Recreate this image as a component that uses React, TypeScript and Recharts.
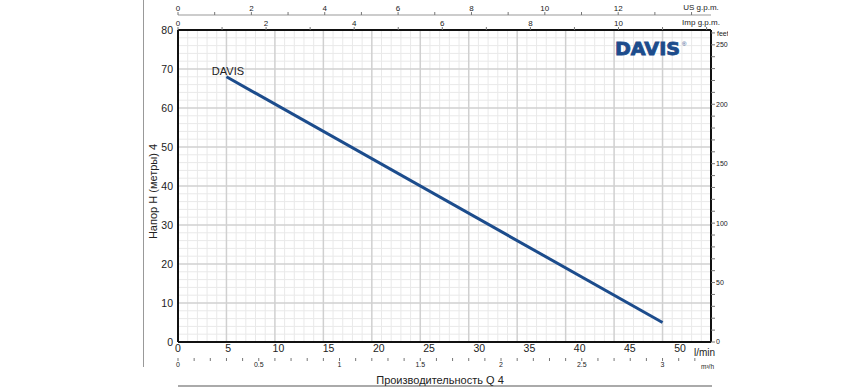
import { LineChart, Line, XAxis, YAxis, ReferenceLine, LabelList } from 'recharts'

// pump curve, flow in l/min, head in metres
const FLOW_LMIN = [5, 50]
const HEAD_M = [68, 5]

const LMIN_TICKS = [0, 5, 10, 15, 20, 25, 30, 35, 40, 45, 50]
const HEAD_TICKS = [0, 10, 20, 30, 40, 50, 60, 70, 80]
const M3H_LABELS = [0, 0.5, 1, 1.5, 2, 2.5, 3]
const US_LABELS = [0, 2, 4, 6, 8, 10, 12]
const IMP_LABELS = [0, 2, 4, 6, 8, 10]
const FEET_LABELS = [0, 50, 100, 150, 200, 250]

const steps = (n: number, step: number) =>
  Array.from({ length: n }, (_, i) => Math.round(i * step * 1000) / 1000)

const M3H_TICKS = steps(33, 0.1)
const US_TICKS = steps(15, 1)
const IMP_TICKS = steps(13, 1)
const FEET_TICKS = steps(27, 10)
const GRID_X = steps(56, 0.06)
const GRID_Y = steps(41, 2)

const data = FLOW_LMIN.map((q, i) => ({ q: Math.round(q * 0.06 * 1000) / 1000, h: HEAD_M[i] }))

const only = (list: number[]) => (v: number) => (list.includes(v) ? String(v) : '')

const FONT = '"Liberation Sans", Arial, sans-serif'
const INK = '#222'
const BLUE = '#1c4c8c'

export default function App() {
  const minorX = GRID_X.filter((_, i) => i > 0 && i < 55 && i % 5 !== 0)
  const majorX = GRID_X.filter((_, i) => i > 0 && i < 55 && i % 5 === 0)
  const minorY = GRID_Y.filter((_, i) => i > 0 && i < 40 && i % 5 !== 0)
  const majorY = GRID_Y.filter((_, i) => i > 0 && i < 40 && i % 5 === 0)

  return (
    <div
      style={{
        position: 'absolute',
        left: 0,
        top: 0,
        width: 728,
        height: 388,
        overflow: 'hidden',
        background: '#fff',
        fontFamily: FONT,
      }}
    >
      <LineChart width={868} height={388} data={data} margin={{ top: 0, right: 127, bottom: 0, left: 138 }}>
        {/* bottom axes */}
        <XAxis
          xAxisId="lmin"
          dataKey="q"
          type="number"
          orientation="bottom"
          domain={[0, 53.08]}
          allowDataOverflow
          ticks={LMIN_TICKS}
          interval={0}
          height={16}
          tickSize={0}
          tickMargin={3}
          tickLine={false}
          axisLine={{ stroke: '#111', strokeWidth: 2 }}
          tick={{ fontSize: 10.5, fill: INK }}
        />
        <XAxis
          xAxisId="m3h"
          dataKey="q"
          type="number"
          orientation="bottom"
          domain={[0, 3.3]}
          allowDataOverflow
          ticks={M3H_TICKS}
          interval={0}
          height={30}
          tickSize={3}
          tickMargin={1}
          tickFormatter={only(M3H_LABELS)}
          axisLine={false}
          tickLine={{ stroke: '#777' }}
          tick={{ fontSize: 7, fill: INK }}
        />
        {/* top axes */}
        <XAxis
          xAxisId="imp"
          dataKey="q"
          type="number"
          orientation="top"
          domain={[0, 12.1]}
          allowDataOverflow
          ticks={IMP_TICKS}
          interval={0}
          height={15}
          tickSize={3}
          tickMargin={1}
          tickFormatter={only(IMP_LABELS)}
          axisLine={{ stroke: '#111', strokeWidth: 2 }}
          tickLine={{ stroke: '#777' }}
          tick={{ fontSize: 8, fill: INK }}
        />
        <XAxis
          xAxisId="us"
          dataKey="q"
          type="number"
          orientation="top"
          domain={[0, 14.53]}
          allowDataOverflow
          ticks={US_TICKS}
          interval={0}
          height={15}
          tickSize={3}
          tickMargin={1}
          tickFormatter={only(US_LABELS)}
          axisLine={{ stroke: '#999' }}
          tickLine={{ stroke: '#777' }}
          tick={{ fontSize: 8, fill: INK }}
        />
        <YAxis
          yAxisId="m"
          dataKey="h"
          type="number"
          domain={[0, 80]}
          allowDataOverflow
          ticks={HEAD_TICKS}
          interval={0}
          width={40}
          tickSize={0}
          tickMargin={5}
          tickLine={false}
          axisLine={{ stroke: '#111', strokeWidth: 2 }}
          tick={{ fontSize: 10.5, fill: INK }}
        />
        <YAxis
          yAxisId="ft"
          orientation="right"
          type="number"
          domain={[0, 262.47]}
          allowDataOverflow
          ticks={FEET_TICKS}
          interval={0}
          width={30}
          tickSize={4}
          tickMargin={1}
          tickFormatter={only(FEET_LABELS)}
          axisLine={{ stroke: '#111', strokeWidth: 2 }}
          tickLine={{ stroke: '#777' }}
          tick={{ fontSize: 7, fill: INK }}
        />

        {minorX.map((v) => (
          <ReferenceLine key={`mx${v}`} xAxisId="m3h" yAxisId="m" x={v} stroke="#e9e9e9" strokeWidth={1} />
        ))}
        {minorY.map((v) => (
          <ReferenceLine key={`my${v}`} xAxisId="m3h" yAxisId="m" y={v} stroke="#e9e9e9" strokeWidth={1} />
        ))}
        {majorX.map((v) => (
          <ReferenceLine key={`Mx${v}`} xAxisId="m3h" yAxisId="m" x={v} stroke="#d0d0d0" strokeWidth={1.5} />
        ))}
        {majorY.map((v) => (
          <ReferenceLine key={`My${v}`} xAxisId="m3h" yAxisId="m" y={v} stroke="#d0d0d0" strokeWidth={1.5} />
        ))}

        <Line
          xAxisId="m3h"
          yAxisId="m"
          dataKey="h"
          stroke={BLUE}
          strokeWidth={3}
          dot={false}
          isAnimationActive={false}
        >
          <LabelList
            dataKey="h"
            content={(p: any) =>
              p.index === 0 ? (
                <text x={p.x + 1.5} y={p.y - 1.5} textAnchor="middle" fontSize={11} fill={INK}>
                  DAVIS
                </text>
              ) : null
            }
          />
        </Line>
      </LineChart>

      <svg
        width={868}
        height={388}
        style={{ position: 'absolute', left: 0, top: 0, pointerEvents: 'none' }}
        fontFamily={FONT}
      >
        <line x1={143.5} y1={0} x2={143.5} y2={367} stroke="#999" strokeWidth={1} />
        <line x1={178} y1={386} x2={712} y2={386} stroke="#aaa" strokeWidth={2} />

        <text x={701} y={10} textAnchor="middle" fontSize={8} fill={INK}>US g.p.m.</text>
        <text x={701} y={25} textAnchor="middle" fontSize={8} fill={INK}>Imp g.p.m.</text>
        <text x={717} y={35.5} fontSize={7} fill={INK}>feet</text>
        <text x={704.5} y={355.5} textAnchor="middle" fontSize={10} fill={INK}>l/min</text>
        <text x={707.5} y={368.5} textAnchor="middle" fontSize={6.5} fill={INK}>m³/h</text>

        <text x={440} y={383.5} textAnchor="middle" fontSize={11} fill={INK}>Производительность Q 4</text>
        <text
          x={0}
          y={0}
          transform="translate(156.5 191.5) rotate(-90)"
          textAnchor="middle"
          fontSize={11}
          fill={INK}
        >
          Напор H (метры) 4
        </text>

        <text
          x={615}
          y={54.5}
          fontSize={18.5}
          fontWeight={900}
          fill={BLUE}
          stroke={BLUE}
          strokeWidth={0.9}
          fontFamily='"DejaVu Sans", sans-serif'
          textLength={65}
          lengthAdjust="spacingAndGlyphs"
        >
          DAVIS
        </text>
        <text x={682} y={46} fontSize={6} fill={BLUE}>®</text>
      </svg>
    </div>
  )
}
